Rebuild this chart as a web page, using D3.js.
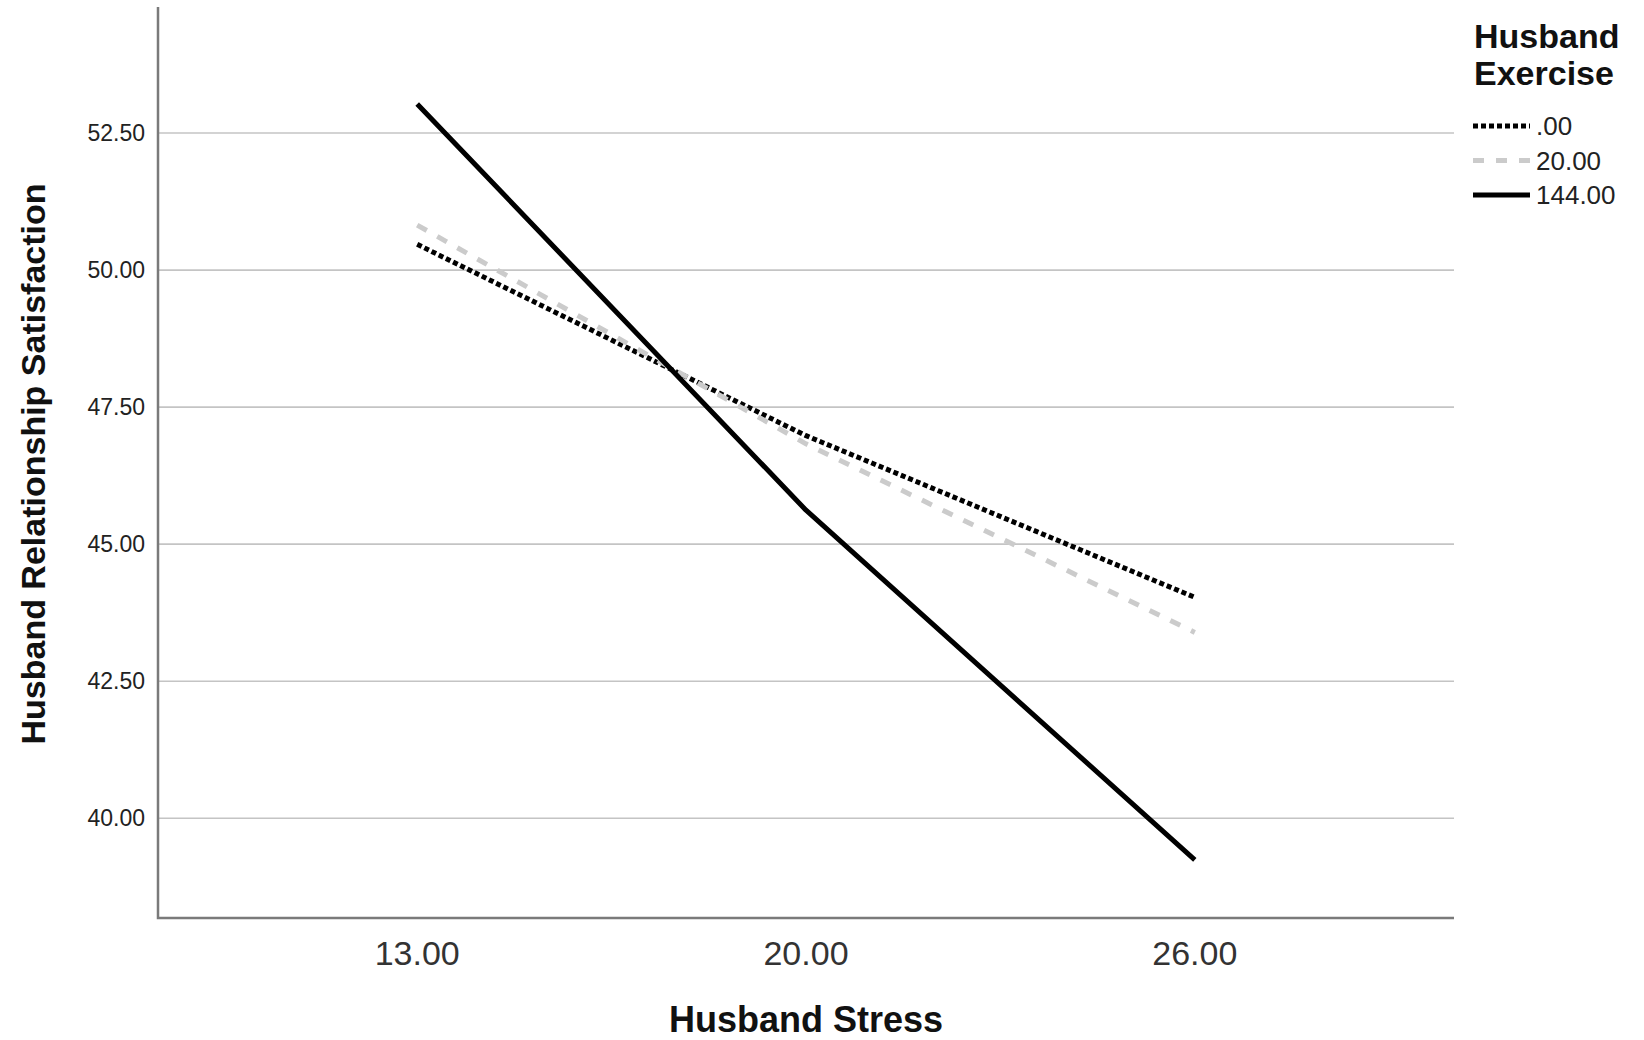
<!DOCTYPE html>
<html>
<head>
<meta charset="utf-8">
<script src="https://cdn.jsdelivr.net/npm/d3@7"></script>
<style>
  body { margin: 0; background: #fff; }
  text { font-family: "Liberation Sans", Arial, sans-serif; }
</style>
</head>
<body>
<svg id="chart" width="1644" height="1040" viewBox="0 0 1644 1040"></svg>
<script>
// categories on x (Husband Stress)
const stress = ["13.00", "20.00", "26.00"]
// y ticks
const yTicks = [40, 42.5, 45, 47.5, 50, 52.5]
// series: Husband Exercise levels
const exerciseLevels = [".00", "20.00", "144.00"]
const sat_00 = [50.47, 46.98, 44.03]
const sat_20 = [50.82, 46.83, 43.39]
const sat_144 = [53.03, 45.62, 39.24]

const series = [
    {name: exerciseLevels[0], values: sat_00},
    {name: exerciseLevels[1], values: sat_20},
    {name: exerciseLevels[2], values: sat_144}
]

const styles = {
    ".00": {stroke: "#000", dash: "5,3"},
    "20.00": {stroke: "#cbcbcb", dash: "11,12"},
    "144.00": {stroke: "#000", dash: null}
}

const svg = d3.select("#chart")
const plotLeft = 158, plotTop = 7, plotRight = 1454, plotBottom = 918

let x = d3.scalePoint()
    .domain(stress)
    .range([plotLeft, plotRight])
    .padding(2/3)

let y = d3.scaleLinear()
    .domain([38.18, 54.80])
    .range([plotBottom, plotTop])

// gridlines
svg.append("g")
    .selectAll("line")
    .data(yTicks)
    .enter()
    .append("line")
    .attr("x1", plotLeft)
    .attr("x2", plotRight)
    .attr("y1", d => y(d))
    .attr("y2", d => y(d))
    .attr("stroke", "#c4c4c4")
    .attr("stroke-width", 1.6)

// y tick labels
svg.append("g")
    .selectAll("text")
    .data(yTicks)
    .enter()
    .append("text")
    .attr("x", plotLeft - 13)
    .attr("y", d => y(d))
    .attr("dy", "0.35em")
    .attr("text-anchor", "end")
    .attr("font-size", 23)
    .attr("fill", "#222")
    .text(d => d3.format(".2f")(d))

// x tick labels
svg.append("g")
    .selectAll("text")
    .data(stress)
    .enter()
    .append("text")
    .attr("x", d => x(d))
    .attr("y", 965)
    .attr("text-anchor", "middle")
    .attr("font-size", 34)
    .attr("fill", "#333")
    .text(d => d)

// axis lines
svg.append("path")
    .attr("d", `M${plotLeft},${plotTop}V${plotBottom}H${plotRight}`)
    .attr("fill", "none")
    .attr("stroke", "#7a7a7a")
    .attr("stroke-width", 2.5)

// lines
let line = d3.line()
    .x((d, i) => x(stress[i]))
    .y(d => y(d))

svg.append("g")
    .selectAll("path")
    .data(series)
    .enter()
    .append("path")
    .attr("d", d => line(d.values))
    .attr("fill", "none")
    .attr("stroke", d => styles[d.name].stroke)
    .attr("stroke-width", 5)
    .attr("stroke-dasharray", d => styles[d.name].dash)
    .attr("stroke-linejoin", "round")

// axis titles
svg.append("text")
    .attr("x", (plotLeft + plotRight) / 2)
    .attr("y", 1032)
    .attr("text-anchor", "middle")
    .attr("font-size", 36)
    .attr("font-weight", "bold")
    .attr("fill", "#111")
    .text("Husband Stress")

svg.append("text")
    .attr("transform", `translate(45,464) rotate(-90)`)
    .attr("text-anchor", "middle")
    .attr("font-size", 34)
    .attr("font-weight", "bold")
    .attr("fill", "#111")
    .text("Husband Relationship Satisfaction")

// legend
let legend = svg.append("g")
legend.append("text")
    .attr("x", 1474)
    .attr("y", 48)
    .attr("font-size", 34)
    .attr("font-weight", "bold")
    .attr("fill", "#111")
    .text("Husband")
legend.append("text")
    .attr("x", 1474)
    .attr("y", 85)
    .attr("font-size", 34)
    .attr("font-weight", "bold")
    .attr("fill", "#111")
    .text("Exercise")

let rowY = d3.scalePoint().domain(exerciseLevels).range([126, 195])

let items = legend.selectAll(".item")
    .data(series)
    .enter()
    .append("g")
    .attr("transform", d => `translate(0,${rowY(d.name)})`)

items.append("line")
    .attr("x1", 1473)
    .attr("x2", 1530)
    .attr("stroke", d => styles[d.name].stroke)
    .attr("stroke-width", 5)
    .attr("stroke-dasharray", d => styles[d.name].dash)

items.append("text")
    .attr("x", 1536)
    .attr("dy", "0.36em")
    .attr("font-size", 26)
    .attr("fill", "#222")
    .text(d => d.name)
</script>
</body>
</html>
